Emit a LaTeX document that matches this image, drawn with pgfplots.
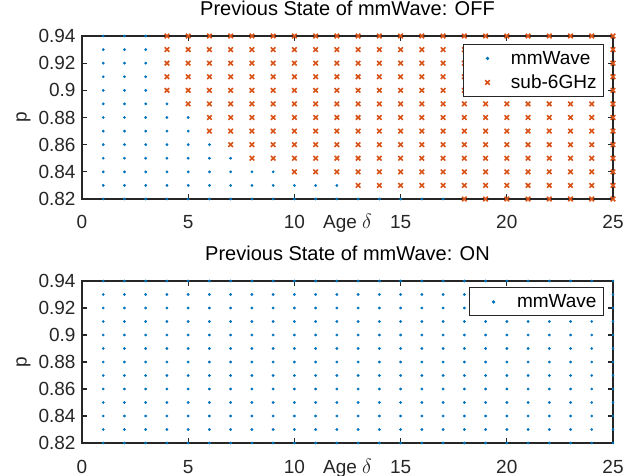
\documentclass[border=0pt]{standalone}
\usepackage{pgfplots}
\pgfplotsset{compat=1.18}
\usepackage{fontspec}
\setmainfont{Liberation Sans}
\definecolor{mblue}{RGB}{0,114,189}
\definecolor{morange}{RGB}{217,83,25}
\definecolor{axgray}{RGB}{38,38,38}
\pgfplotsset{
 mstyle/.style={
  scale only axis, width=531bp, height=163bp,
  xmin=0, xmax=25, ymin=0.82, ymax=0.94,
  xtick={0,5,10,15,20,25}, xticklabels={0,5,10,15,20,25},
  ytick={0.82,0.84,0.86,0.88,0.9,0.92,0.94},
  yticklabels={0.82,0.84,0.86,0.88,0.9,0.92,0.94},
  tick align=inside, tick pos=both, xticklabel pos=lower, yticklabel pos=left,
  major tick length=5bp,
  axis line style={axgray, line width=1.1bp},
  every tick/.style={axgray, line width=1.1bp},
  tick label style={font=\fontsize{19bp}{22bp}\selectfont, text=axgray},
  xticklabel style={anchor=base, yshift=-30bp},
  yticklabel style={xshift=-3bp},
  /pgf/number format/assume math mode=true,
  xlabel={Age $\delta$},
  xlabel style={at={(axis description cs:0.5,0)}, anchor=base, yshift=-30bp, font=\fontsize{19bp}{22bp}\selectfont, text=axgray},
  ylabel={p},
  ylabel style={at={(axis description cs:-0.11,0.5)}, anchor=center, font=\fontsize{19bp}{22bp}\selectfont, text=axgray},
  title style={at={(axis description cs:0.5,1)}, anchor=base, yshift=15bp, inner sep=0pt, font=\fontsize{20bp}{22bp}\selectfont, text=black},
  clip=false,
  legend style={at={(axis description cs:0.983,0.951)}, anchor=north east, draw=axgray, line width=0.9bp, fill=white,
    font=\fontsize{19bp}{22bp}\selectfont, inner xsep=0bp, inner ysep=2bp, row sep=0bp, column sep=0bp,
    nodes={inner xsep=7bp, inner ysep=3bp, text height=15bp, text depth=3bp}},
  legend cell align=left,
  legend image code/.code={\path (0bp,0bp) (40bp,0bp); \draw[#1] plot coordinates {(24bp,0bp)};},
 },
 mm/.style={only marks, mark=*, mark size=1.2bp, color=mblue, mark options={draw=none, fill=mblue}},
 sg/.style={only marks, mark=x, mark size=3.2bp, color=morange, mark options={line width=1.6bp}},
}
\begin{document}
\begin{tikzpicture}
\useasboundingbox (0bp,0bp) rectangle (636bp,476bp);
\begin{axis}[mstyle, at={(82bp,277bp)}, anchor=south west, title={Previous State of mmWave: OFF}]
\addplot[mm] coordinates {
(1,0.94)(2,0.94)(3,0.94)
(1,0.93)(2,0.93)(3,0.93)
(1,0.92)(2,0.92)(3,0.92)
(1,0.91)(2,0.91)(3,0.91)
(1,0.90)(2,0.90)(3,0.90)
(1,0.89)(2,0.89)(3,0.89)(4,0.89)
(1,0.88)(2,0.88)(3,0.88)(4,0.88)(5,0.88)
(1,0.87)(2,0.87)(3,0.87)(4,0.87)(5,0.87)
(1,0.86)(2,0.86)(3,0.86)(4,0.86)(5,0.86)(6,0.86)
(1,0.85)(2,0.85)(3,0.85)(4,0.85)(5,0.85)(6,0.85)(7,0.85)
(1,0.84)(2,0.84)(3,0.84)(4,0.84)(5,0.84)(6,0.84)(7,0.84)(8,0.84)(9,0.84)
(1,0.83)(2,0.83)(3,0.83)(4,0.83)(5,0.83)(6,0.83)(7,0.83)(8,0.83)(9,0.83)(10,0.83)(11,0.83)(12,0.83)
(1,0.82)(2,0.82)(3,0.82)(4,0.82)(5,0.82)(6,0.82)(7,0.82)(8,0.82)(9,0.82)(10,0.82)(11,0.82)(12,0.82)(13,0.82)(14,0.82)(15,0.82)(16,0.82)(17,0.82)
};
\addlegendentry{mmWave}
\addplot[sg] coordinates {
(4,0.94)(5,0.94)(6,0.94)(7,0.94)(8,0.94)(9,0.94)(10,0.94)(11,0.94)(12,0.94)(13,0.94)(14,0.94)(15,0.94)(16,0.94)(17,0.94)(18,0.94)(19,0.94)(20,0.94)(21,0.94)(22,0.94)(23,0.94)(24,0.94)(25,0.94)
(4,0.93)(5,0.93)(6,0.93)(7,0.93)(8,0.93)(9,0.93)(10,0.93)(11,0.93)(12,0.93)(13,0.93)(14,0.93)(15,0.93)(16,0.93)(17,0.93)(18,0.93)(19,0.93)(20,0.93)(21,0.93)(22,0.93)(23,0.93)(24,0.93)(25,0.93)
(4,0.92)(5,0.92)(6,0.92)(7,0.92)(8,0.92)(9,0.92)(10,0.92)(11,0.92)(12,0.92)(13,0.92)(14,0.92)(15,0.92)(16,0.92)(17,0.92)(18,0.92)(19,0.92)(20,0.92)(21,0.92)(22,0.92)(23,0.92)(24,0.92)(25,0.92)
(4,0.91)(5,0.91)(6,0.91)(7,0.91)(8,0.91)(9,0.91)(10,0.91)(11,0.91)(12,0.91)(13,0.91)(14,0.91)(15,0.91)(16,0.91)(17,0.91)(18,0.91)(19,0.91)(20,0.91)(21,0.91)(22,0.91)(23,0.91)(24,0.91)(25,0.91)
(4,0.90)(5,0.90)(6,0.90)(7,0.90)(8,0.90)(9,0.90)(10,0.90)(11,0.90)(12,0.90)(13,0.90)(14,0.90)(15,0.90)(16,0.90)(17,0.90)(18,0.90)(19,0.90)(20,0.90)(21,0.90)(22,0.90)(23,0.90)(24,0.90)(25,0.90)
(5,0.89)(6,0.89)(7,0.89)(8,0.89)(9,0.89)(10,0.89)(11,0.89)(12,0.89)(13,0.89)(14,0.89)(15,0.89)(16,0.89)(17,0.89)(18,0.89)(19,0.89)(20,0.89)(21,0.89)(22,0.89)(23,0.89)(24,0.89)(25,0.89)
(6,0.88)(7,0.88)(8,0.88)(9,0.88)(10,0.88)(11,0.88)(12,0.88)(13,0.88)(14,0.88)(15,0.88)(16,0.88)(17,0.88)(18,0.88)(19,0.88)(20,0.88)(21,0.88)(22,0.88)(23,0.88)(24,0.88)(25,0.88)
(6,0.87)(7,0.87)(8,0.87)(9,0.87)(10,0.87)(11,0.87)(12,0.87)(13,0.87)(14,0.87)(15,0.87)(16,0.87)(17,0.87)(18,0.87)(19,0.87)(20,0.87)(21,0.87)(22,0.87)(23,0.87)(24,0.87)(25,0.87)
(7,0.86)(8,0.86)(9,0.86)(10,0.86)(11,0.86)(12,0.86)(13,0.86)(14,0.86)(15,0.86)(16,0.86)(17,0.86)(18,0.86)(19,0.86)(20,0.86)(21,0.86)(22,0.86)(23,0.86)(24,0.86)(25,0.86)
(8,0.85)(9,0.85)(10,0.85)(11,0.85)(12,0.85)(13,0.85)(14,0.85)(15,0.85)(16,0.85)(17,0.85)(18,0.85)(19,0.85)(20,0.85)(21,0.85)(22,0.85)(23,0.85)(24,0.85)(25,0.85)
(10,0.84)(11,0.84)(12,0.84)(13,0.84)(14,0.84)(15,0.84)(16,0.84)(17,0.84)(18,0.84)(19,0.84)(20,0.84)(21,0.84)(22,0.84)(23,0.84)(24,0.84)(25,0.84)
(13,0.83)(14,0.83)(15,0.83)(16,0.83)(17,0.83)(18,0.83)(19,0.83)(20,0.83)(21,0.83)(22,0.83)(23,0.83)(24,0.83)(25,0.83)
(18,0.82)(19,0.82)(20,0.82)(21,0.82)(22,0.82)(23,0.82)(24,0.82)(25,0.82)
};
\addlegendentry{sub-6GHz}
\end{axis}
\begin{axis}[mstyle, height=162bp, at={(82bp,33bp)}, anchor=south west, title={Previous State of mmWave: ON},
  legend style={at={(axis description cs:0.983,0.96)}}]
\addplot[mm] coordinates {
(1,0.94)(2,0.94)(3,0.94)(4,0.94)(5,0.94)(6,0.94)(7,0.94)(8,0.94)(9,0.94)(10,0.94)(11,0.94)(12,0.94)(13,0.94)(14,0.94)(15,0.94)(16,0.94)(17,0.94)(18,0.94)(19,0.94)(20,0.94)(21,0.94)(22,0.94)(23,0.94)(24,0.94)(25,0.94)
(1,0.93)(2,0.93)(3,0.93)(4,0.93)(5,0.93)(6,0.93)(7,0.93)(8,0.93)(9,0.93)(10,0.93)(11,0.93)(12,0.93)(13,0.93)(14,0.93)(15,0.93)(16,0.93)(17,0.93)(18,0.93)(19,0.93)(20,0.93)(21,0.93)(22,0.93)(23,0.93)(24,0.93)(25,0.93)
(1,0.92)(2,0.92)(3,0.92)(4,0.92)(5,0.92)(6,0.92)(7,0.92)(8,0.92)(9,0.92)(10,0.92)(11,0.92)(12,0.92)(13,0.92)(14,0.92)(15,0.92)(16,0.92)(17,0.92)(18,0.92)(19,0.92)(20,0.92)(21,0.92)(22,0.92)(23,0.92)(24,0.92)(25,0.92)
(1,0.91)(2,0.91)(3,0.91)(4,0.91)(5,0.91)(6,0.91)(7,0.91)(8,0.91)(9,0.91)(10,0.91)(11,0.91)(12,0.91)(13,0.91)(14,0.91)(15,0.91)(16,0.91)(17,0.91)(18,0.91)(19,0.91)(20,0.91)(21,0.91)(22,0.91)(23,0.91)(24,0.91)(25,0.91)
(1,0.90)(2,0.90)(3,0.90)(4,0.90)(5,0.90)(6,0.90)(7,0.90)(8,0.90)(9,0.90)(10,0.90)(11,0.90)(12,0.90)(13,0.90)(14,0.90)(15,0.90)(16,0.90)(17,0.90)(18,0.90)(19,0.90)(20,0.90)(21,0.90)(22,0.90)(23,0.90)(24,0.90)(25,0.90)
(1,0.89)(2,0.89)(3,0.89)(4,0.89)(5,0.89)(6,0.89)(7,0.89)(8,0.89)(9,0.89)(10,0.89)(11,0.89)(12,0.89)(13,0.89)(14,0.89)(15,0.89)(16,0.89)(17,0.89)(18,0.89)(19,0.89)(20,0.89)(21,0.89)(22,0.89)(23,0.89)(24,0.89)(25,0.89)
(1,0.88)(2,0.88)(3,0.88)(4,0.88)(5,0.88)(6,0.88)(7,0.88)(8,0.88)(9,0.88)(10,0.88)(11,0.88)(12,0.88)(13,0.88)(14,0.88)(15,0.88)(16,0.88)(17,0.88)(18,0.88)(19,0.88)(20,0.88)(21,0.88)(22,0.88)(23,0.88)(24,0.88)(25,0.88)
(1,0.87)(2,0.87)(3,0.87)(4,0.87)(5,0.87)(6,0.87)(7,0.87)(8,0.87)(9,0.87)(10,0.87)(11,0.87)(12,0.87)(13,0.87)(14,0.87)(15,0.87)(16,0.87)(17,0.87)(18,0.87)(19,0.87)(20,0.87)(21,0.87)(22,0.87)(23,0.87)(24,0.87)(25,0.87)
(1,0.86)(2,0.86)(3,0.86)(4,0.86)(5,0.86)(6,0.86)(7,0.86)(8,0.86)(9,0.86)(10,0.86)(11,0.86)(12,0.86)(13,0.86)(14,0.86)(15,0.86)(16,0.86)(17,0.86)(18,0.86)(19,0.86)(20,0.86)(21,0.86)(22,0.86)(23,0.86)(24,0.86)(25,0.86)
(1,0.85)(2,0.85)(3,0.85)(4,0.85)(5,0.85)(6,0.85)(7,0.85)(8,0.85)(9,0.85)(10,0.85)(11,0.85)(12,0.85)(13,0.85)(14,0.85)(15,0.85)(16,0.85)(17,0.85)(18,0.85)(19,0.85)(20,0.85)(21,0.85)(22,0.85)(23,0.85)(24,0.85)(25,0.85)
(1,0.84)(2,0.84)(3,0.84)(4,0.84)(5,0.84)(6,0.84)(7,0.84)(8,0.84)(9,0.84)(10,0.84)(11,0.84)(12,0.84)(13,0.84)(14,0.84)(15,0.84)(16,0.84)(17,0.84)(18,0.84)(19,0.84)(20,0.84)(21,0.84)(22,0.84)(23,0.84)(24,0.84)(25,0.84)
(1,0.83)(2,0.83)(3,0.83)(4,0.83)(5,0.83)(6,0.83)(7,0.83)(8,0.83)(9,0.83)(10,0.83)(11,0.83)(12,0.83)(13,0.83)(14,0.83)(15,0.83)(16,0.83)(17,0.83)(18,0.83)(19,0.83)(20,0.83)(21,0.83)(22,0.83)(23,0.83)(24,0.83)(25,0.83)
(1,0.82)(2,0.82)(3,0.82)(4,0.82)(5,0.82)(6,0.82)(7,0.82)(8,0.82)(9,0.82)(10,0.82)(11,0.82)(12,0.82)(13,0.82)(14,0.82)(15,0.82)(16,0.82)(17,0.82)(18,0.82)(19,0.82)(20,0.82)(21,0.82)(22,0.82)(23,0.82)(24,0.82)(25,0.82)
};
\addlegendentry{mmWave}
\end{axis}
\end{tikzpicture}
\end{document}
